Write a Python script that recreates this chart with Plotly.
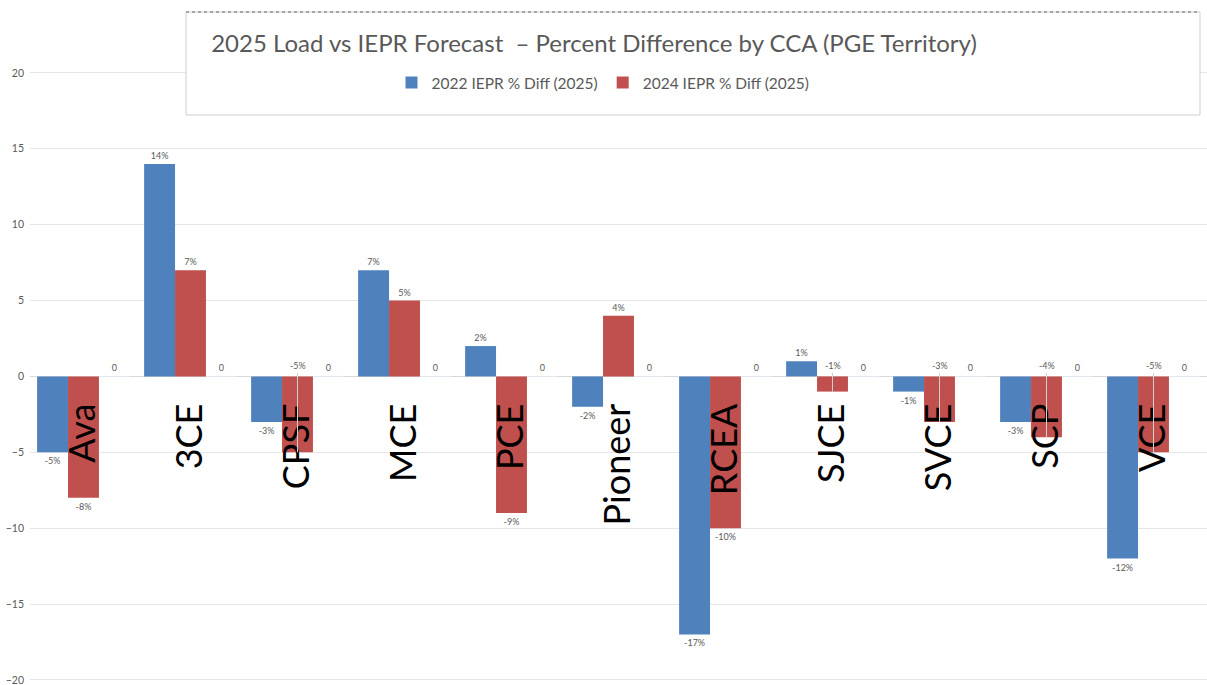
import plotly.graph_objects as go

categories = ["Ava", "3CE", "CPSF", "MCE", "PCE", "Pioneer", "RCEA", "SJCE", "SVCE", "SCP", "VCE"]
diff_2022 = [-5, 14, -3, 7, 2, -2, -17, 1, -1, -3, -12]
diff_2024 = [-8, 7, -5, 5, -9, 4, -10, -1, -3, -4, -5]
zero_series = [0, 0, 0, 0, 0, 0, 0, 0, 0, 0, 0]
labels_above_2024 = ["CPSF", "SJCE", "SVCE", "SCP", "VCE"]
y_ticks = [-20, -15, -10, -5, 0, 5, 10, 15, 20]
series_names = ["2022 IEPR % Diff (2025)", "2024 IEPR % Diff (2025)"]
title_text = "2025 Load vs IEPR Forecast  \u2013 Percent Difference by CCA (PGE Territory)"

W, H = 1207, 685
ML, MR, MT, MB = 30, 0, 0, 0
Y_MIN, Y_MAX = -20.33, 24.8
FONT = "Lato"
GREY = "#595959"


def px_x(p):
    return (p - ML) / (W - ML - MR)


def px_y(p):
    return 1 - (p - MT) / (H - MT - MB)


fig = go.Figure()
fig.add_trace(go.Bar(
    x=categories, y=diff_2022, name=series_names[0],
    marker=dict(color="#4f81bd", line=dict(width=0)),
    text=[f"{v}%" for v in diff_2022], textposition="outside",
    textfont=dict(size=9, color=GREY, family=FONT), cliponaxis=False,
    constraintext="none",
))
fig.add_trace(go.Bar(
    x=categories, y=diff_2024, name=series_names[1],
    marker=dict(color="#c0504d", line=dict(width=0)),
    text=["" if c in labels_above_2024 else f"{v}%" for c, v in zip(categories, diff_2024)],
    textposition="outside",
    textfont=dict(size=9, color=GREY, family=FONT), cliponaxis=False,
    constraintext="none",
))
fig.add_trace(go.Bar(
    x=categories, y=zero_series, name="zero", showlegend=False,
    marker=dict(color="rgba(0,0,0,0)"),
    text=[str(v) for v in zero_series], textposition="outside",
    textfont=dict(size=9, color=GREY, family=FONT), cliponaxis=False,
    constraintext="none", hoverinfo="skip",
))

annotations = []
for c in labels_above_2024:
    i = categories.index(c)
    v = diff_2024[i]
    annotations.append(dict(
        x=c, y=v, xref="x", yref="y", text=f"{v}%",
        showarrow=True, arrowhead=0, arrowwidth=1, arrowcolor="#d0d0d0",
        ax=0, ay=0.7, ayref="y",
        font=dict(size=9, color=GREY, family=FONT),
    ))

shapes = [
    dict(type="rect", xref="paper", yref="paper",
         x0=px_x(186), x1=px_x(1200), y0=px_y(115), y1=px_y(12),
         fillcolor="white", line=dict(color="#cfcfcf", width=1), layer="above"),
    dict(type="line", xref="paper", yref="paper",
         x0=px_x(186), x1=px_x(1200), y0=px_y(12), y1=px_y(12),
         line=dict(color="#a6a6a6", width=2, dash="dot"), layer="above"),
]

zero_pos = (0 - Y_MIN) / (Y_MAX - Y_MIN)

fig.update_layout(
    width=W, height=H,
    margin=dict(l=ML, r=MR, t=MT, b=MB, pad=0),
    paper_bgcolor="white", plot_bgcolor="white",
    barmode="group", bargap=0.133, bargroupgap=0,
    font=dict(family=FONT, color=GREY),
    title=dict(text=title_text, x=594 / W, xref="container", xanchor="center",
               y=1 - 44 / H, yref="container", yanchor="middle",
               font=dict(family=FONT, size=24, color=GREY)),
    legend=dict(orientation="h", x=px_x(603), xanchor="center",
                y=px_y(83), yanchor="middle",
                font=dict(family=FONT, size=15.5, color=GREY),
                bgcolor="rgba(0,0,0,0)", itemwidth=30),
    xaxis=dict(type="category", anchor="free", position=zero_pos,
               range=[-0.5, len(categories) - 0.5],
               tickangle=-90, tickfont=dict(family=FONT, size=36, color="black"),
               showgrid=False, showline=False, ticks="", ticklabelstandoff=19,
               automargin=False, zeroline=False),
    yaxis=dict(range=[Y_MIN, Y_MAX], tickvals=y_ticks, showgrid=True,
               gridcolor="#e6e6e6", gridwidth=1, zeroline=True,
               zerolinecolor="#d9d9d9", zerolinewidth=1, showline=False,
               ticklabelstandoff=5, ticklabeloverflow="allow",
               tickfont=dict(family=FONT, size=10.5, color=GREY), automargin=False),
    shapes=shapes, annotations=annotations,
)

fig.write_html(
    "out.html",
    config={"displayModeBar": False},
    post_script="document.body.style.margin='0';document.body.style.overflow='hidden';",
)
